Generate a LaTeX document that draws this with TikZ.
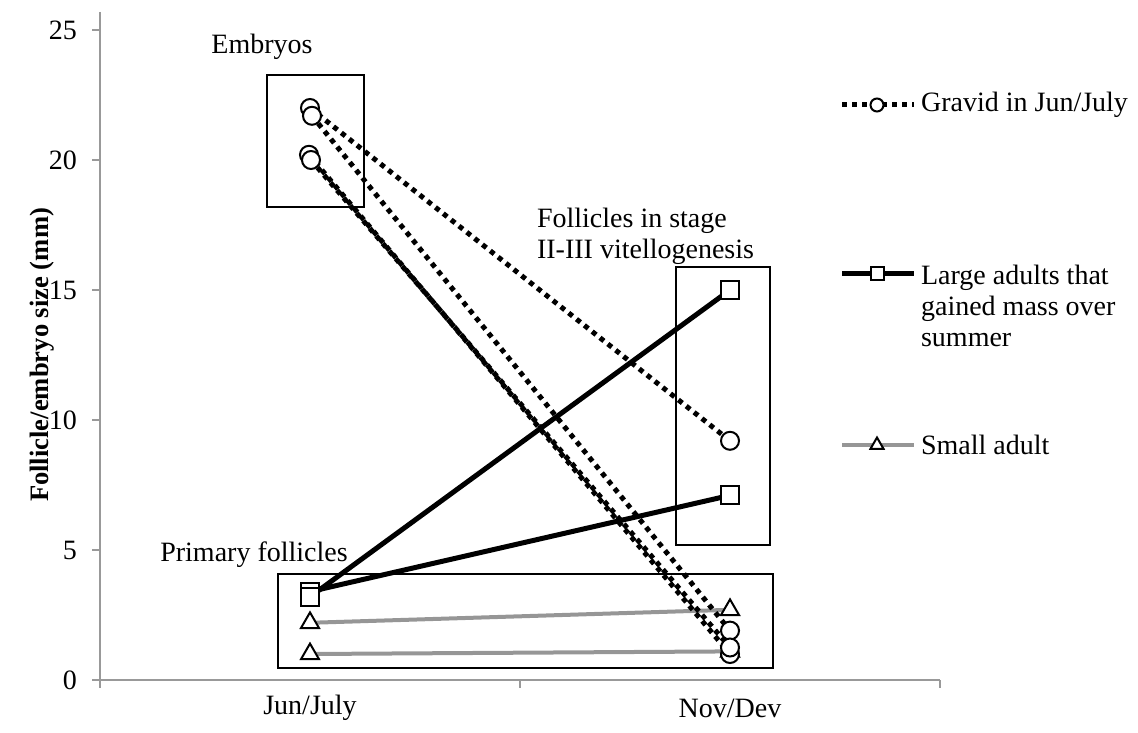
\documentclass[tikz,border=0pt]{standalone}
\usepackage{fontspec}
\setmainfont{Liberation Serif}
\usetikzlibrary{shapes.geometric}

\definecolor{axisgray}{RGB}{153,153,153}
\definecolor{smallgray}{RGB}{150,150,150}

\tikzset{
  every node/.style={font=\fontsize{14}{15.5}\selectfont},
  axisline/.style={draw=axisgray, line width=1pt},
  groupbox/.style={draw=black, line width=1pt},
  gravidline/.style={draw=black, line width=2.5pt, dash pattern=on 2.5pt off 2.5pt},
  largeline/.style={draw=black, line width=2.5pt},
  smallline/.style={draw=smallgray, line width=2pt},
  gravidmark/.style={circle, draw=black, fill=white, line width=1pt, inner sep=0pt, minimum size=9pt},
  largemark/.style={rectangle, draw=black, fill=white, line width=1pt, inner sep=0pt, minimum size=9pt},
  smallmark/.style={regular polygon, regular polygon sides=3, draw=black, fill=white, line width=1pt, inner sep=0pt, minimum size=10.4pt}
}

\begin{document}
\begin{tikzpicture}[x=0.5pt,y=-0.5pt]
    \useasboundingbox (0,0) rectangle (1138,732);
    % axes
    \draw[axisline] (100,12) -- (100,680) -- (940,680);
    \foreach \v in {0,5,...,25} {
        \draw[axisline] (92,{680-26*\v}) -- (100,{680-26*\v});
        \node[anchor=east] (tick\v) at (84,{680-26*\v}) {\v};
    }
    \foreach \x in {100,520,940} \draw[axisline] (\x,680) -- (\x,688);
    \node (jun) at (310,708) {Jun/July};
    \node (nov) at (730,708) {Nov/Dev};
    \node[rotate=90, font=\bfseries\fontsize{13.3}{15}\selectfont] (ylab) at (42,355) {Follicle/embryo size (mm)};
    % group boxes and their labels
    \draw[groupbox] (267,75) rectangle (364,207);
    \draw[groupbox] (676,267) rectangle (770,545);
    \draw[groupbox] (278,574) rectangle (773,668);
    \node (embryos) at (262,47) {Embryos};
    \node[align=left, anchor=west] (follicles) at (530,236) {Follicles in stage\\II-III vitellogenesis};
    \node (primary) at (254,555) {Primary follicles};
    % data, in mm
    \begin{scope}[shift={(0,680)}, y=13pt]
        \coordinate (s1a) at (310,2.2);  \coordinate (s1b) at (730,2.7);
        \coordinate (s2a) at (310,1.0);  \coordinate (s2b) at (730,1.1);
        \coordinate (l1a) at (310,3.4);  \coordinate (l1b) at (730,7.1);
        \coordinate (l2a) at (310,3.2);  \coordinate (l2b) at (730,15.0);
        \coordinate (g1a) at (310,22.0); \coordinate (g1b) at (730,9.2);
        \coordinate (g2a) at (312,21.7); \coordinate (g2b) at (730,1.9);
        \coordinate (g3a) at (309,20.2); \coordinate (g3b) at (730,1.0);
        \coordinate (g4a) at (311,20.0); \coordinate (g4b) at (730,1.25);
    \end{scope}
    \draw[smallline] (s1a) -- (s1b);
    \draw[smallline] (s2a) -- (s2b);
    \draw[largeline] (l1a) -- (l1b);
    \draw[largeline] (l2a) -- (l2b);
    \draw[gravidline] (g1a) -- (g1b);
    \draw[gravidline] (g2a) -- (g2b);
    \draw[gravidline] (g3a) -- (g3b);
    \draw[gravidline] (g4a) -- (g4b);
    \node[smallmark] (ms1a) at (s1a) {};
    \node[smallmark] (ms1b) at (s1b) {};
    \node[smallmark] (ms2a) at (s2a) {};
    \node[smallmark] (ms2b) at (s2b) {};
    \node[largemark] (ml1a) at (l1a) {};
    \node[largemark] (ml1b) at (l1b) {};
    \node[largemark] (ml2a) at (l2a) {};
    \node[largemark] (ml2b) at (l2b) {};
    \node[gravidmark] (mg1a) at (g1a) {};
    \node[gravidmark] (mg2a) at (g2a) {};
    \node[gravidmark] (mg3a) at (g3a) {};
    \node[gravidmark] (mg4a) at (g4a) {};
    \node[gravidmark] (mg1b) at (g1b) {};
    \node[gravidmark] (mg3b) at (g3b) {};
    \node[gravidmark] (mg2b) at (g2b) {};
    \node[gravidmark] (mg4b) at (g4b) {};
    % legend
    \node[anchor=west] (leggravid) at (914,105) {Gravid in Jun/July};
    \node[anchor=west, align=left] (leglarge) at (914,306) {Large adults that\\gained mass over\\summer};
    \node[anchor=west] (legsmall) at (914,445) {Small adult};
    \coordinate (lgg) at (842,105);
    \coordinate (lgl) at (842,274);
    \coordinate (lgs) at (842,445);
    \draw[gravidline] (lgg) -- (leggravid.west);
    \draw[largeline] (lgl) -- (lgl -| leglarge.west);
    \draw[smallline] (lgs) -- (legsmall.west);
    \node[gravidmark, minimum size=6.5pt] (mgg) at (877,105) {};
    \node[largemark, minimum size=6.5pt] (mgl) at (877,274) {};
    \node[smallmark, minimum size=7.5pt] (mgs) at (877,445) {};
\end{tikzpicture}
\end{document}
